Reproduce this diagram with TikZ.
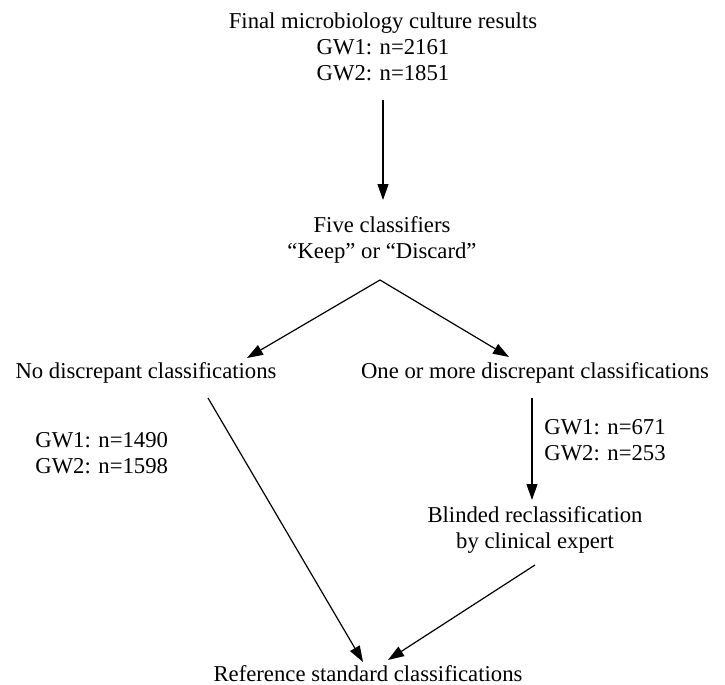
\documentclass[tikz,border=0pt]{standalone}
\usepackage{fontspec}
\setmainfont{Liberation Serif}
\usetikzlibrary{arrows.meta}

\begin{document}
\begin{tikzpicture}[
  x=0.5pt, y=-0.5pt,
  label/.style={inner sep=0pt, align=center, font=\fontsize{11.35}{13}\selectfont},
  count/.style={label, align=left, anchor=west},
  arrow/.style={-{Triangle[length=8pt, width=5.5pt]}, line width=0.6pt}
]
\useasboundingbox (0,0) rectangle (725,685);

\node[label] (results) at (383,47) {Final microbiology culture results\\GW1: n=2161\\GW2: n=1851};
\node[label] (classifiers) at (382,240) {Five classifiers\\``Keep'' or ``Discard''};
\node[label] (nodisc) at (146,373) {No discrepant classifications};
\node[label] (disc) at (535,373) {One or more discrepant classifications};
\node[count] (nodisccount) at (35,453) {GW1: n=1490\\GW2: n=1598};
\node[count] (disccount) at (544,440) {GW1: n=671\\GW2: n=253};
\node[label] (expert) at (535,530) {Blinded reclassification\\by clinical expert};
\node[label] (reference) at (368,674) {Reference standard classifications};

\draw[arrow] ([shift={(0,53)}]results.center) -- ([shift={(1,-40)}]classifiers.center);
\draw[arrow] ([shift={(-2,40)}]classifiers.center) -- ([shift={(101,-15)}]nodisc.center);
\draw[arrow] ([shift={(-2,40)}]classifiers.center) -- ([shift={(-26,-16)}]disc.center);
\draw[arrow] ([shift={(62,25)}]nodisc.center) -- ([shift={(-5,-12)}]reference.center);
\draw[arrow] ([shift={(-3,25)}]disc.center) -- ([shift={(-3,-30)}]expert.center);
\draw[arrow] ([shift={(0,35)}]expert.center) -- ([shift={(20,-14)}]reference.center);
\end{tikzpicture}
\end{document}
